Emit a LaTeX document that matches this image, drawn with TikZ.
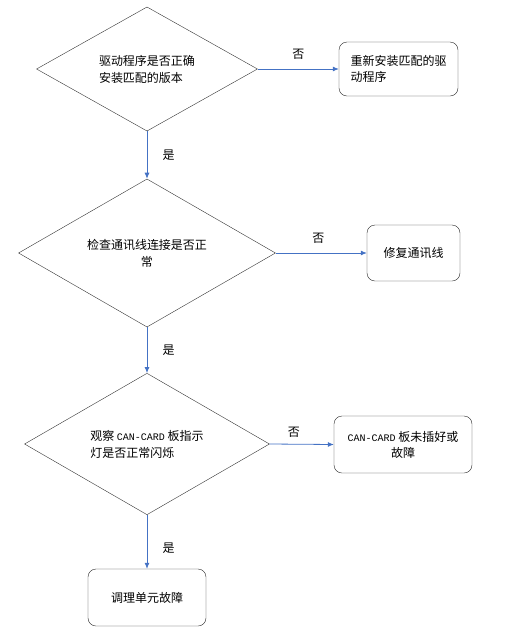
\documentclass[tikz,border=0pt]{standalone}
\usepackage{fontspec}
\setmainfont{Noto Sans CJK SC}
\newfontfamily\latinmono{Liberation Mono}
\usepackage{xcolor}
\usetikzlibrary{arrows.meta,shapes.geometric}
\definecolor{flowblue}{RGB}{68,114,196}
\newcommand{\cancard}{{\latinmono\fontsize{10}{17}\selectfont CAN-CARD}}

\begin{document}
\begin{tikzpicture}[x=1pt,y=-1pt,
    check/.style={diamond,draw=black!80,inner sep=0pt,align=left,font=\fontsize{12}{17}\selectfont},
    action/.style={rounded corners=8pt,draw=black!85,inner sep=0pt,align=center,font=\fontsize{12}{16}\selectfont},
    arr/.style={-{Latex[length=6pt,width=5pt]},draw=flowblue,line width=0.8pt},
    lbl/.style={font=\fontsize{12}{14}\selectfont}]
   \useasboundingbox (0,0) rectangle (508,633);
   % decisions
   \node[check,minimum width=221pt,minimum height=122pt] (drv) at (147,69)  {驱动程序是否正确\\安装匹配的版本};
   \node[check,minimum width=257pt,minimum height=127pt,align=center] (cable) at (147,253) {检查通讯线连接是否正\\常};
   \node[check,minimum width=245pt,minimum height=124pt] (led) at (147,444) {观察 \cancard\ 板指示\\灯是否正常闪烁};
   % actions
   \node[action,minimum width=119pt,minimum height=54pt,align=left] (reinst) at (398.5,69) {重新安装匹配的驱\\动程序};
   \node[action,minimum width=93pt,minimum height=56pt]  (fixcable) at (413.5,253) {修复通讯线};
   \node[action,minimum width=138pt,minimum height=57pt] (card) at (403,444.5) {\cancard\ 板未插好或\\故障};
   \node[action,minimum width=118pt,minimum height=57pt] (unit) at (147,597.5) {调理单元故障};
   % connectors
   \draw[arr] (drv.east) -- (reinst.west) node[lbl,midway,above=6pt]{否};
   \draw[arr] (drv.south) -- (cable.north) node[lbl,midway,right=12pt]{是};
   \draw[arr] (cable.east) -- (fixcable.west) node[lbl,midway,above=6pt,xshift=-3pt]{否};
   \draw[arr] (cable.south) -- (led.north) node[lbl,midway,right=12pt]{是};
   \draw[arr] (led.east) -- (card.west) node[lbl,midway,above=3pt,xshift=-8pt]{否};
   \draw[arr] (led.south) -- (unit.north) node[lbl,midway,right=12pt,yshift=-6pt]{是};
\end{tikzpicture}
\end{document}
